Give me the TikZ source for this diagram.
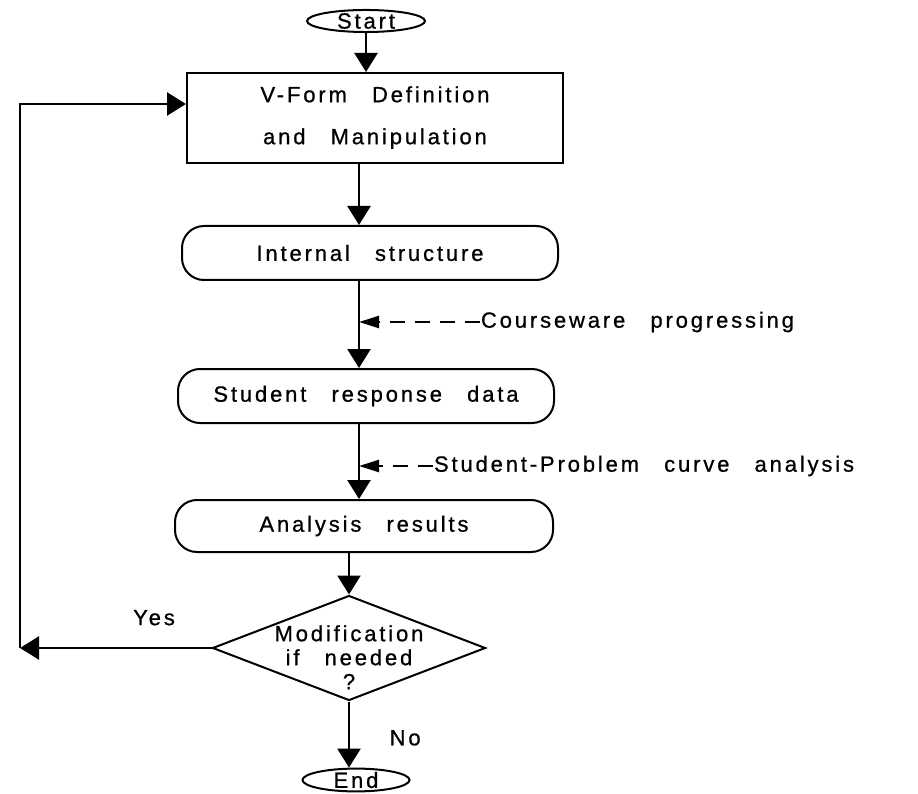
\documentclass[tikz,border=0pt]{standalone}
\usepackage{fontspec}
\setmainfont{Liberation Sans}[LetterSpace=13, WordSpace=2.8, FakeBold=0.8]
\usetikzlibrary{arrows.meta,shapes.geometric}

\begin{document}
\begin{tikzpicture}[x=1pt, y=-1pt, line width=2pt,
    every node/.style={font=\fontsize{22}{26}\selectfont},
    terminal/.style={draw, ellipse, inner sep=0pt, minimum height=21pt},
    process/.style={draw, rectangle, minimum width=376pt, minimum height=90pt},
    stepbox/.style={draw, rounded corners=22pt, minimum width=376pt, minimum height=54pt},
    decision/.style={draw, diamond, shape aspect=2.6, inner sep=-18pt, minimum width=273pt, minimum height=105pt},
    flow/.style={-{Triangle[length=19pt,width=23pt]}, line width=2.6pt},
    feed/.style={-{Triangle[length=20pt,width=12pt]}, dash pattern=on 15pt off 10pt, line width=2.4pt}]
    \useasboundingbox (0,0) rectangle (918,794);
    \coordinate (Spine) at (359,0);
    \coordinate (Corner) at (20,645);
    \node [terminal, minimum width=118pt] (Start) at (366,21) {Start};
    \node [process] (VForm) at (375,118) {\begin{tabular}{c}V-Form Definition\\[16pt]and Manipulation\end{tabular}};
    \node [stepbox] (Internal) at (370,253) {Internal structure};
    \node [stepbox] (Response) at (366,396) {Student response data};
    \node [stepbox, minimum width=378pt, minimum height=52pt] (Results) at (364,526) {Analysis results};
    \node [decision] (Modify) at (349,648) {\raisebox{-12pt}[\height][\depth]{\begin{tabular}{c}Modification\\[-2pt]if needed\\[-2pt]?\end{tabular}}};
    \node [terminal, minimum width=107pt, minimum height=20pt] (End) at (356,780) {End};
    \node [anchor=west, inner sep=0pt] (Courseware) at (480,322) {Courseware progressing};
    \node [anchor=west, inner sep=0pt] (SPCurve) at (433,466) {Student-Problem curve analysis};
    \path[flow] (Start.south) edge (Start.south |- VForm.north);
    \path[flow] (VForm.south -| Spine) edge (Internal.north -| Spine);
    \path[flow] (Internal.south -| Spine) edge (Response.north -| Spine);
    \path[flow] (Response.south -| Spine) edge (Results.north -| Spine);
    \path[flow] (Results.south -| Modify.north) edge (Modify.north);
    \path[feed] (Courseware.west) edge (Courseware.west -| Spine);
    \path[feed] (SPCurve.west) edge (SPCurve.west -| Spine);
    \path[flow] (Modify.west) edge node[pos=0.3, above=18pt] {Yes} (Modify.west -| Corner);
    \path[flow] (Modify.west -| Corner) edge[to path={|- (\tikztotarget)}] ([yshift=14pt]VForm.west);
    \path[flow] (Modify.south) edge node[pos=0.55, right=36pt] {No} (End.north -| Modify.south);
\end{tikzpicture}
\end{document}
